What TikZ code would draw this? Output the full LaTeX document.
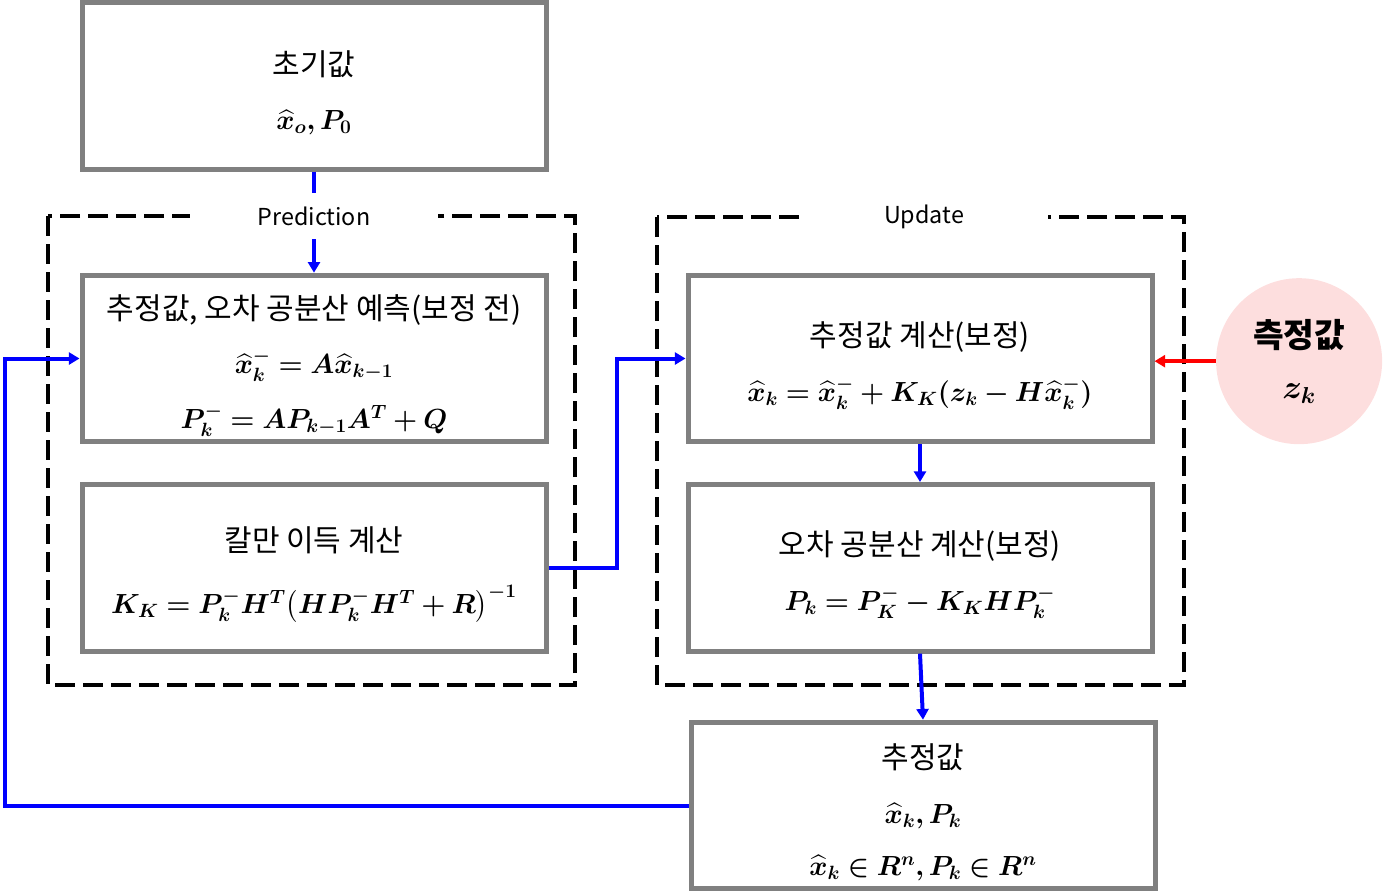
\documentclass[tikz,border=0pt]{standalone}
\usepackage{amsmath, amssymb}
\usepackage{bm}
\usepackage{fontspec}
\setmainfont{Noto Sans CJK KR}
\usetikzlibrary{arrows.meta, positioning, shapes}

\definecolor{boxgray}{RGB}{128,128,128}
\definecolor{measpink}{RGB}{253,222,222}
\newcommand{\fm}[1]{{\fontsize{20}{24}\selectfont$\bm{#1}$}}
\newcommand{\hd}{\rule{0pt}{29pt}}

\begin{document}
\begin{tikzpicture}[
				x=0.75pt, y=-0.75pt,
				node distance=28.25pt and 102.75pt,
				box/.style={rectangle, draw=boxgray, line width=3.75pt, fill=white, minimum width=348pt, minimum height=125pt, align=center, font=\fontsize{22.5}{41}\selectfont},
				frame/.style={draw=black, line width=3pt, dash pattern=on 15pt off 6pt},
				tag/.style={fill=white, minimum width=186pt, minimum height=34.5pt, inner sep=0pt, font=\fontsize{17.5}{20}\selectfont},
				meas/.style={circle, fill=measpink, minimum size=124.5pt, align=center, font=\fontsize{25}{38}\selectfont},
				flow/.style={-{Triangle[length=8pt, width=9pt]}, draw=blue, line width=3pt},
				obs/.style={-{Triangle[length=8pt, width=9pt]}, draw=red, line width=3pt}
				]
				\useasboundingbox (0,0) rectangle (1384,894);
				
				% 점선 영역
				\draw[frame] (48,216) rectangle (575,685);
				\draw[frame] (657,217) rectangle (1184,685);
				
				% 예측 단계
				\node[box] (pred) at (314,358.5) {\hd 추정값, 오차 공분산 예측(보정 전)\\ \fm{\widehat{x}_k^- = A\widehat{x}_{k-1}}\\ \fm{P_k^- = AP_{k-1}A^T + Q}};
				\node[box, below=of pred] (gain) {\hd 칼만 이득 계산\\[6pt] \fm{K_K = P_k^-H^T\bigl(HP_k^-H^T + R\bigr)^{-1}}};
				\node[box, above=75.75pt of pred] (init) {\hd 초기값\\ \fm{\widehat{x}_o, P_0}};
				
				% 보정 단계
				\node[box, right=of pred] (upd) {\hd 추정값 계산(보정)\\ \fm{\widehat{x}_k = \widehat{x}_k^- + K_K(z_k - H\widehat{x}_k^-)}};
				\node[box, below=of upd] (cov) {\hd 오차 공분산 계산(보정)\\ \fm{P_k = P_K^- - K_KHP_k^-}};
				\node[box, below=49.5pt of cov, xshift=2.25pt] (est) {\hd 추정값\\ \fm{\widehat{x}_k, P_k}\\[-2pt] \fm{\widehat{x}_k \in R^n, P_k \in R^n}};
				
				% 측정값
				\node[meas, right=46pt of upd, yshift=-2pt] (zk) {\bfseries 측정값\\ $\bm{z_k}$};
				
				% 연결
				\coordinate (turn) at (617,569);
				\coordinate (back) at (5,807);
				\draw[flow] (init) -- (pred);
				\draw[flow] (gain.east) -- (gain.east -| turn) |- (upd.west);
				\draw[flow] (upd) -- (cov);
				\draw[flow] (cov.south) -- (est.north);
				\draw[flow] (est.west) -- (est.west -| back) |- (pred.west);
				\draw[obs] (zk) -- (upd.east |- zk);
				
				% 영역 이름
				\node[tag] (ptag) at (314,216) {Prediction};
				\node[tag] (utag) at (924,217) {Update};
			\end{tikzpicture}
\end{document}
